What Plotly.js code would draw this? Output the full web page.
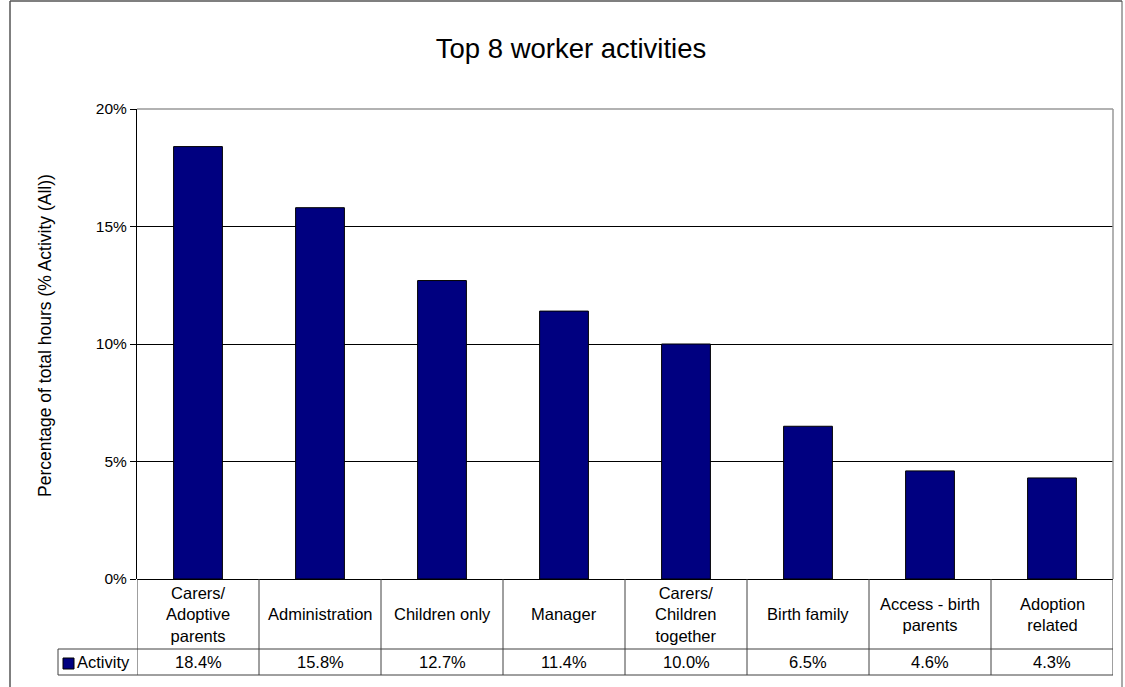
<!DOCTYPE html>
<html>
<head>
<meta charset="utf-8">
<script src="https://cdn.plot.ly/plotly-3.0.1.min.js"></script>
<style>html,body{margin:0;padding:0;background:#fff;}#chart{width:1125px;height:687px;}</style>
</head>
<body>
<div id="chart"></div>
<script>
const categories = ["Carers/<br>Adoptive<br>parents", "Administration", "Children only", "Manager", "Carers/<br>Children<br>together", "Birth family", "Access - birth<br>parents", "Adoption<br>related"];
const values = [18.4, 15.8, 12.7, 11.4, 10.0, 6.5, 4.6, 4.3];
const seriesName = "Activity";
const yTicks = [0, 5, 10, 15, 20];
const yTickText = ["0%", "5%", "10%", "15%", "20%"];

const L = 137, R = 12, T = 109, B = 108;
const W = 1125, H = 687;
const pw = W - L - R, ph = H - T - B;
const px = x => (x - L) / pw;        // pixel -> paper x
const py = y => (H - B - y) / ph;    // pixel -> paper y

const catRowBottom = py(649);
const dataRowBottom = py(675);
const legendLeft = px(58);
const xs = categories.map((c, i) => i);

const lineCol = "#404040";
const shapes = [];
for (let i = 0; i <= categories.length; i++) {
  shapes.push({type: "line", xref: "x", yref: "paper", x0: i - 0.5, x1: i - 0.5, y0: 0, y1: dataRowBottom, line: {color: lineCol, width: 1}});
}
shapes.push({type: "line", xref: "paper", yref: "paper", x0: legendLeft, x1: 1, y0: catRowBottom, y1: catRowBottom, line: {color: lineCol, width: 1}});
shapes.push({type: "line", xref: "paper", yref: "paper", x0: legendLeft, x1: 1, y0: dataRowBottom, y1: dataRowBottom, line: {color: lineCol, width: 1}});
shapes.push({type: "line", xref: "paper", yref: "paper", x0: legendLeft, x1: legendLeft, y0: catRowBottom, y1: dataRowBottom, line: {color: lineCol, width: 1}});
shapes.push({type: "rect", xref: "paper", yref: "paper", x0: px(63), x1: px(74), y0: py(669), y1: py(658), fillcolor: "#000080", line: {color: "#000", width: 1}});
shapes.push({type: "line", xref: "paper", yref: "paper", x0: 0, x1: 1, y0: 1, y1: 1, line: {color: "#999", width: 1.5}});
shapes.push({type: "line", xref: "paper", yref: "paper", x0: 1, x1: 1, y0: 0, y1: 1, line: {color: "#999", width: 1.5}});
shapes.push({type: "line", xref: "paper", yref: "paper", x0: px(10), x1: px(10), y0: py(1), y1: py(700), line: {color: "#000", width: 1}});
shapes.push({type: "line", xref: "paper", yref: "paper", x0: px(10), x1: px(1122), y0: py(1), y1: py(1), line: {color: "#555", width: 1.5}});
shapes.push({type: "line", xref: "paper", yref: "paper", x0: px(1122), x1: px(1122), y0: py(1), y1: py(700), line: {color: "#555", width: 1}});

const font = "Liberation Sans, Arial, sans-serif";
const tSize = 16.5;
const annotations = [];
categories.forEach((c, i) => {
  annotations.push({xref: "x", yref: "paper", x: i, y: (0 + catRowBottom) / 2, text: c, showarrow: false, font: {family: font, size: tSize, color: "#000"}, align: "center", yanchor: "middle"});
  annotations.push({xref: "x", yref: "paper", x: i, y: (catRowBottom + dataRowBottom) / 2, text: values[i].toFixed(1) + "%", showarrow: false, font: {family: font, size: tSize, color: "#000"}, yanchor: "middle"});
});
annotations.push({xref: "paper", yref: "paper", x: px(75), y: (catRowBottom + dataRowBottom) / 2, text: seriesName, showarrow: false, xanchor: "left", yanchor: "middle", font: {family: font, size: tSize, color: "#000"}});
annotations.push({xref: "paper", yref: "paper", x: px(45), y: py(336), text: "Percentage of total hours (% Activity (All))", textangle: -90, showarrow: false, xanchor: "center", yanchor: "middle", font: {family: font, size: 17.5, color: "#000"}});

const data = [{
  type: "bar", x: xs, y: values, name: seriesName, width: 0.4,
  marker: {color: "#000080", line: {color: "#000", width: 1}},
  hoverinfo: "skip"
}];

const layout = {
  width: W, height: H,
  margin: {l: L, r: R, t: T, b: B},
  paper_bgcolor: "#fff", plot_bgcolor: "#fff",
  showlegend: false,
  title: {text: "Top 8 worker activities", x: 571 / W, xref: "container", xanchor: "center", y: 1 - 48 / H, yanchor: "middle", font: {family: font, size: 27.5, color: "#000"}},
  xaxis: {range: [-0.5, categories.length - 0.5], showticklabels: false, ticks: "", showgrid: false, zeroline: false, showline: false, fixedrange: true},
  yaxis: {range: [0, 20], tickvals: yTicks, ticktext: yTickText, ticks: "outside", ticklen: 6, tickcolor: "#000",
          showline: true, linecolor: "#000", linewidth: 1, showgrid: true, gridcolor: "#000", gridwidth: 1,
          zeroline: true, zerolinecolor: "#000", zerolinewidth: 1, tickfont: {family: font, size: 15.5, color: "#000"}, fixedrange: true},
  shapes: shapes,
  annotations: annotations
};

Plotly.newPlot("chart", data, layout, {displayModeBar: false, staticPlot: true});
</script>
</body>
</html>
